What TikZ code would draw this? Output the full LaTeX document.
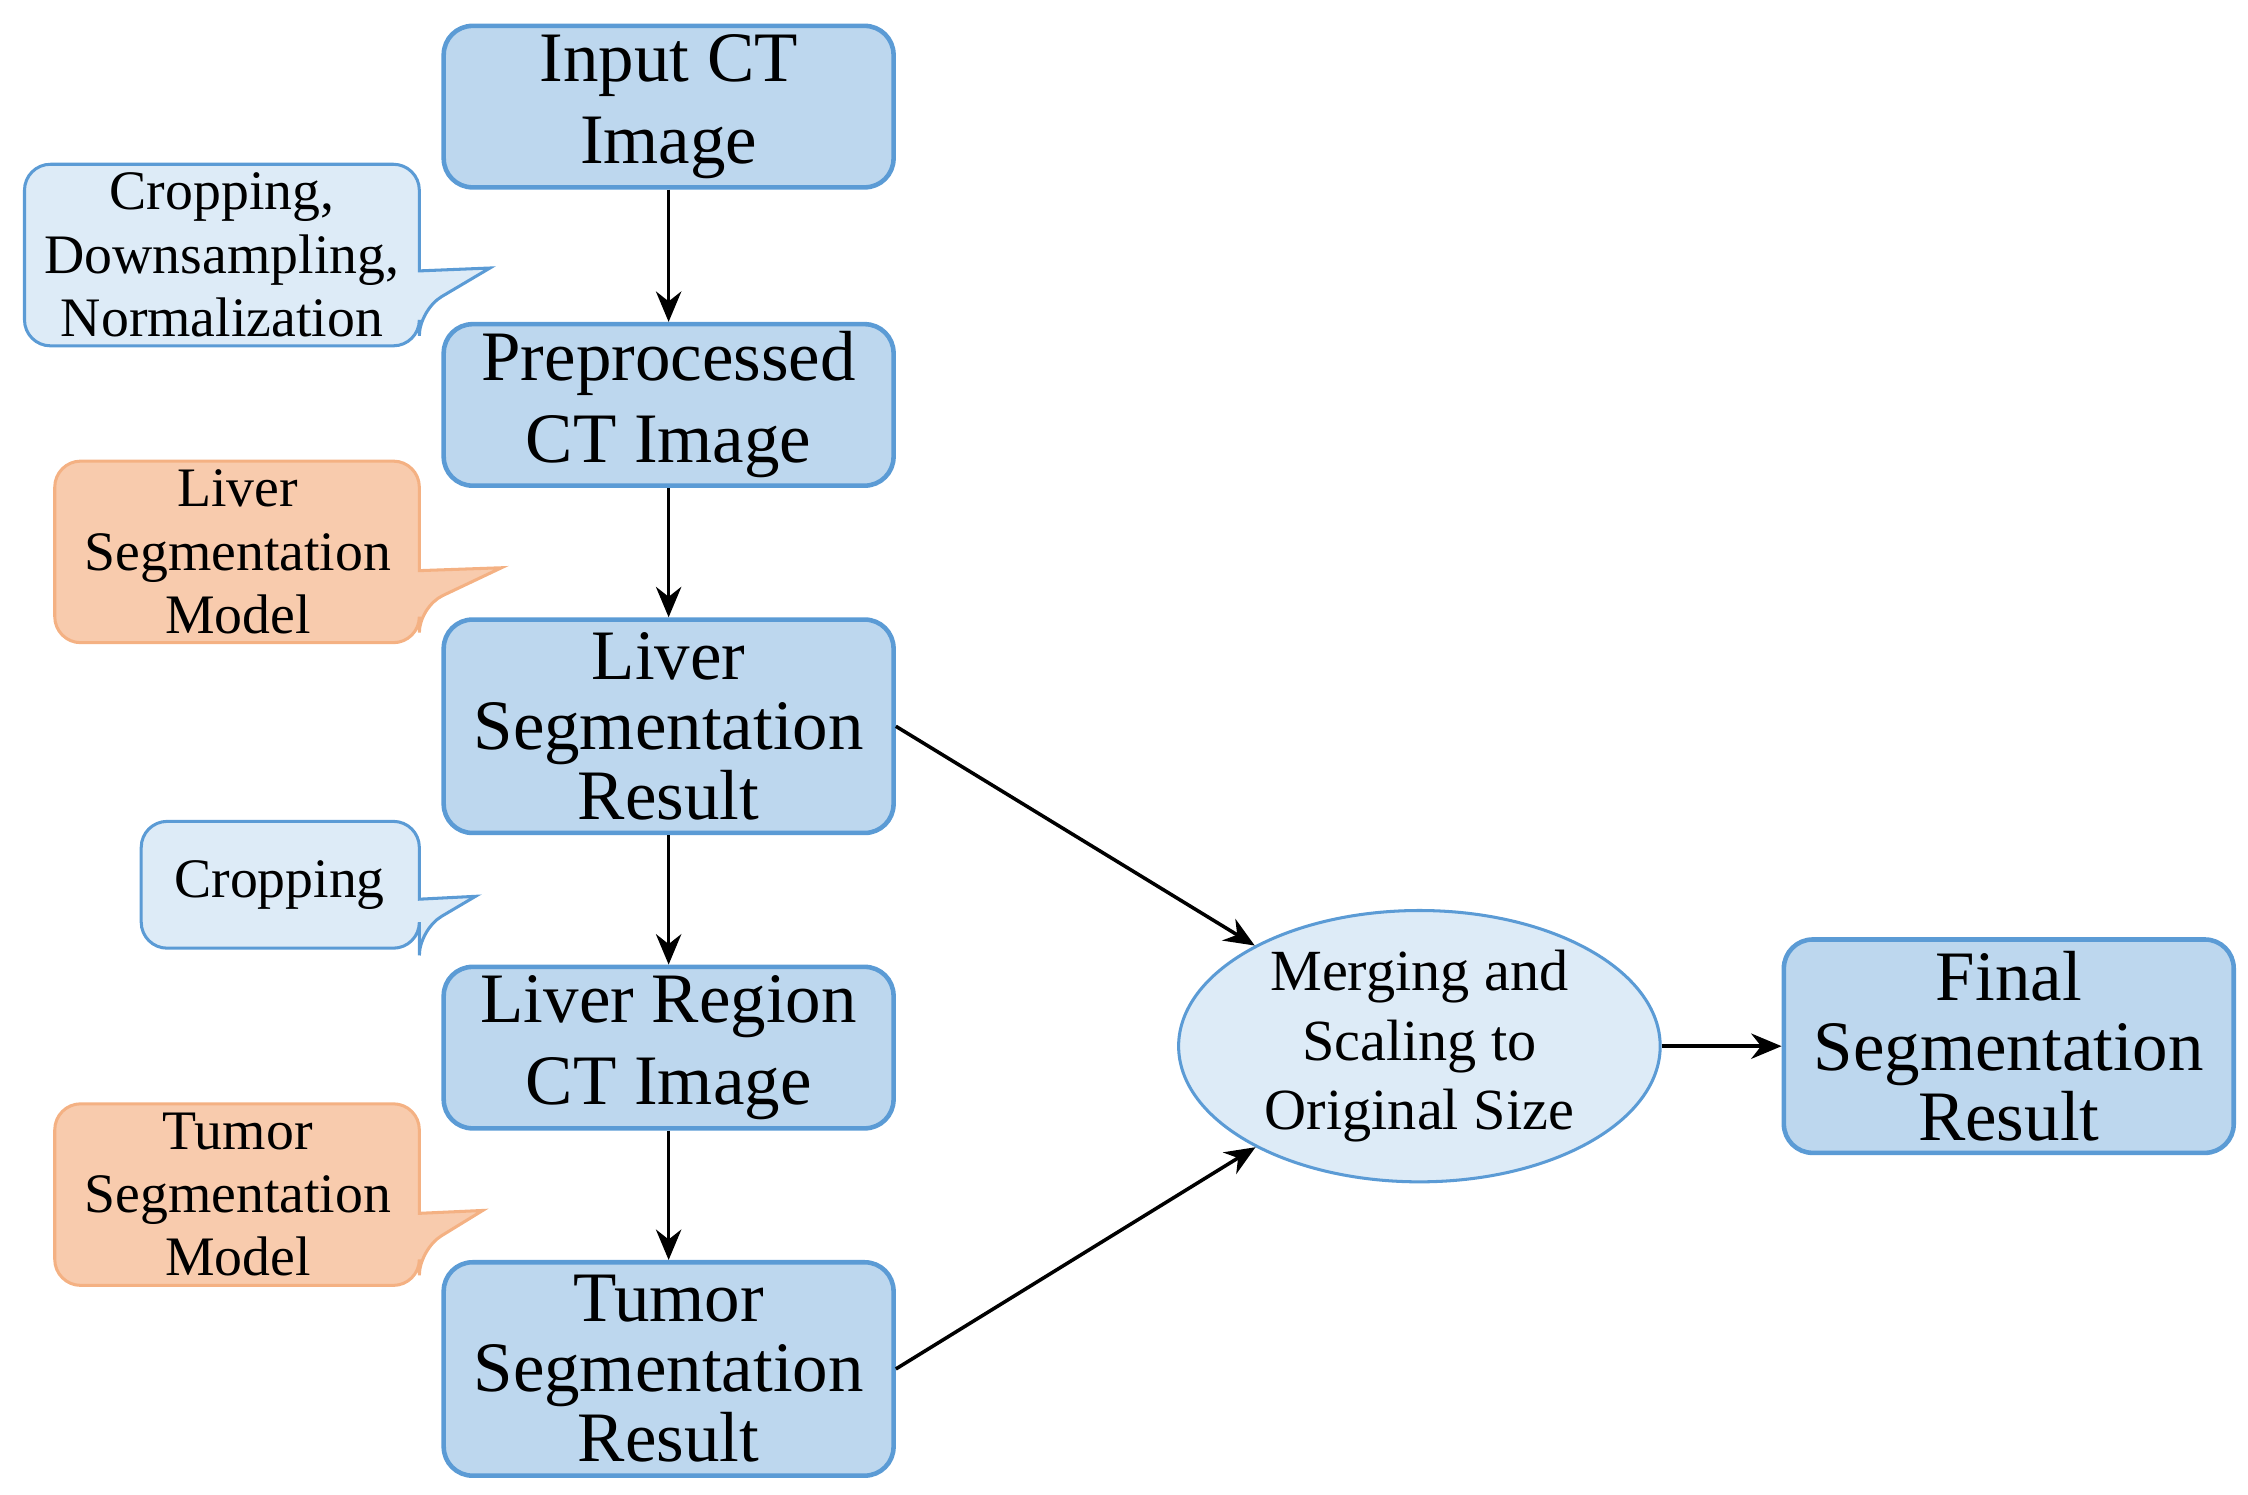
\documentclass[tikz,border=0pt]{standalone}
\usepackage{fontspec}
\setmainfont{Liberation Serif}
\usetikzlibrary{shapes.geometric,arrows.meta}
\definecolor{bfill}{HTML}{BDD7EE}
\definecolor{bdraw}{HTML}{5B9BD5}
\definecolor{lfill}{HTML}{DDEBF7}
\definecolor{ofill}{HTML}{F8CBAD}
\definecolor{odraw}{HTML}{F4B183}
\tikzset{
 box/.style={draw=bdraw,fill=bfill,line width=0.9pt,rounded corners=0.2cm,minimum width=3.12cm,align=center,font=\fontsize{14}{13.8}\selectfont,inner sep=0pt},
 box2/.style={box,minimum height=1.12cm,font=\fontsize{14}{16.2}\selectfont},
 box3/.style={box,minimum height=1.48cm},
 call/.style={line width=0.6pt,rounded corners=0.18cm},
 ctext/.style={align=center,font=\fontsize{11}{12.5}\selectfont,inner sep=0pt},
 arr/.style={-{Stealth[length=6pt,width=5pt]},line width=0.7pt}
}
\begin{document}
\begin{tikzpicture}[x=0.01cm,y=-0.01cm]
\useasboundingbox (0,0) rectangle (1560,1037);
\node[box2] (a) at (464,74) {Input CT\\Image};
\node[box2] (b) at (464,281) {Preprocessed\\CT Image};
\node[box3] (c) at (464,504) {Liver\\Segmentation\\Result};
\node[box2] (d) at (464,727) {Liver Region\\CT Image};
\node[box3] (e) at (464,950) {Tumor\\Segmentation\\Result};
\node[ellipse,draw=bdraw,fill=lfill,line width=0.6pt,minimum width=3.34cm,minimum height=1.71cm,align=center,inner sep=0pt,font=\fontsize{11.5}{13.7}\selectfont] (m) at (985,726) {Merging and\\Scaling to\\Original Size};
\node[box3] (f) at (1394,726) {Final\\Segmentation\\Result};
\draw[arr] (a) -- (b);
\draw[arr] (b) -- (c);
\draw[arr] (c) -- (d);
\draw[arr] (d) -- (e);
\draw[arr] (c.east) -- (m);
\draw[arr] (e.east) -- (m);
\draw[arr] (m) -- (f);
% callouts
\draw[call,draw=bdraw,fill=lfill] (291,215) [sharp corners]-- (340,186) -- (291,188) [rounded corners=0.18cm]-- (291,114) -- (17,114) -- (17,240) -- (291,240) -- cycle;
\node[ctext] (t1) at (154,177) {Cropping,\\Downsampling,\\Normalization};
\draw[call,draw=odraw,fill=ofill] (291,421) [sharp corners]-- (348,394) -- (291,396) [rounded corners=0.18cm]-- (291,320) -- (38,320) -- (38,446) -- (291,446) -- cycle;
\node[ctext] (t2) at (165,383) {Liver\\Segmentation\\Model};
\draw[call,draw=bdraw,fill=lfill] (291,645) [sharp corners]-- (330,622) -- (291,624) [rounded corners=0.18cm]-- (291,570) -- (98,570) -- (98,658) -- (291,658) -- cycle;
\node[ctext] (t3) at (194,614) {Cropping};
\draw[call,draw=odraw,fill=ofill] (291,867) [sharp corners]-- (335,840) -- (291,842) [rounded corners=0.18cm]-- (291,766) -- (38,766) -- (38,892) -- (291,892) -- cycle;
\node[ctext] (t4) at (165,829) {Tumor\\Segmentation\\Model};
\end{tikzpicture}
\end{document}
